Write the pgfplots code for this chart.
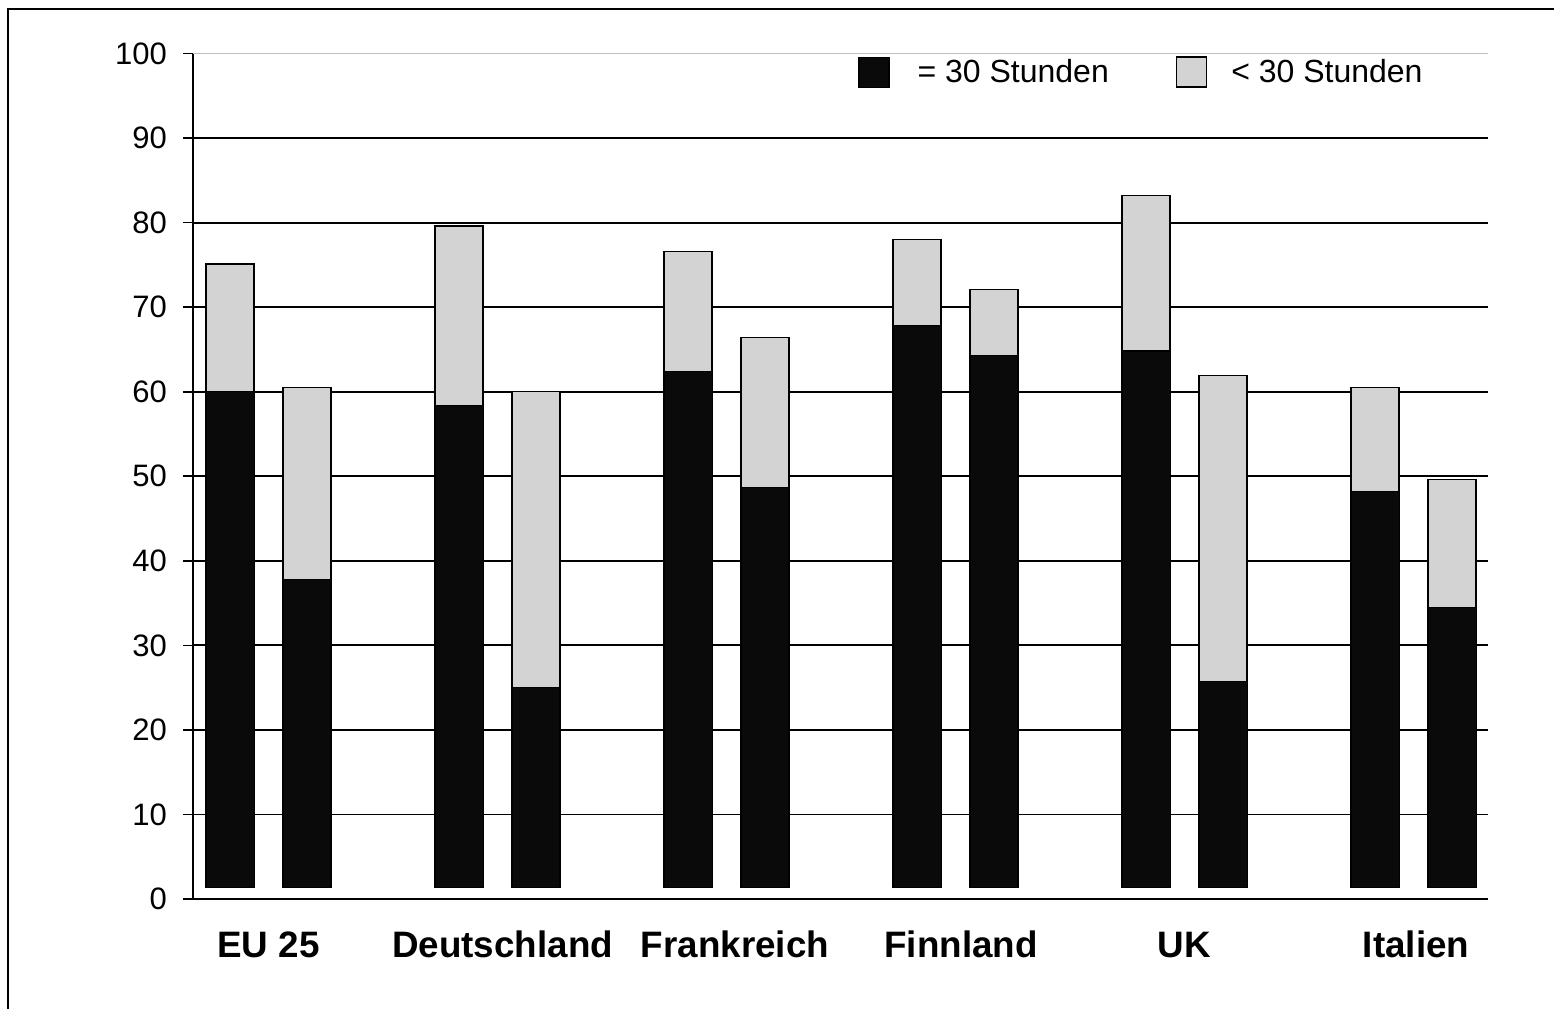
\documentclass[border=0pt]{standalone}
\usepackage{fontspec}
\setmainfont{Liberation Sans}
\usepackage{pgfplots}
\pgfplotsset{compat=1.18}
\definecolor{barblack}{HTML}{0A0A0A}
\definecolor{bargray}{HTML}{D3D3D3}
\begin{document}
\begin{tikzpicture}
\useasboundingbox (0,0) rectangle (777pt,504.5pt);
% outer frame (only top and left visible)
\draw[line width=1pt] (4.2pt,0) -- (4.2pt,500.2pt) -- (777pt,500.2pt);
\begin{axis}[
	at={(96.5pt,55pt)}, anchor=south west,
	width=647.5pt, height=422.75pt, scale only axis,
	ybar stacked, bar width=0.21,
	xmin=-0.33, xmax=5.325, ymin=0, ymax=100,
	axis x line*=bottom, axis y line*=left,
	x axis line style={line width=1.4pt},
	y axis line style={line width=0.8pt},
	ytick={0,10,...,90},
	extra y ticks={100}, extra y tick style={grid=none},
	ymajorgrids, major grid style={black, line width=0.9pt},
	tick align=outside, major tick length=5pt,
	ytick style={black, line width=0.8pt},
	xtick style={draw=none},
	xtick={0,1.022,2.037,3.024,3.998,5.011},
	xticklabels={EU 25,Deutschland,Frankreich,Finnland,UK,Italien},
	xticklabel style={font=\fontsize{18.4}{22}\selectfont\bfseries, inner sep=0pt, anchor=base, yshift=-24pt},
	yticklabel style={font=\fontsize{15.5}{19}\selectfont, xshift=-4.5pt},
	/pgf/number format/assume math mode=true,
	legend columns=2,
	legend style={at={(rel axis cs:0.5135,0.978)}, anchor=west, draw=none, fill=none,
		inner sep=0pt, font=\fontsize{16}{19}\selectfont,
		/tikz/column 1/.style={column sep=12pt},
		/tikz/column 2/.style={column sep=31.5pt},
		/tikz/column 3/.style={column sep=10pt}},
	legend image code/.code={\draw[#1] (0pt,-7.5pt) rectangle (15pt,7.5pt);},
]
% invisible base, bars start slightly above zero
\addplot[draw=none, fill=none, forget plot] coordinates {
	(-0.168,1.35) (0.168,1.35) (0.832,1.35) (1.168,1.35) (1.832,1.35) (2.168,1.35)
	(2.832,1.35) (3.168,1.35) (3.832,1.35) (4.168,1.35) (4.832,1.35) (5.168,1.35)};
\addplot[fill=barblack, draw=black, line width=0.6pt] coordinates {
	(-0.168,58.65) (0.168,36.45) (0.832,57.05) (1.168,23.65) (1.832,61.05) (2.168,47.35)
	(2.832,66.45) (3.168,62.95) (3.832,63.45) (4.168,24.35) (4.832,46.85) (5.168,33.15)};
\addlegendentry{= 30 Stunden}
\addplot[fill=bargray, draw=black, line width=0.7pt] coordinates {
	(-0.168,15.1) (0.168,22.7) (0.832,21.2) (1.168,35.0) (1.832,14.2) (2.168,17.7)
	(2.832,10.2) (3.168,7.8) (3.832,18.4) (4.168,36.2) (4.832,12.3) (5.168,15.1)};
\addlegendentry{< 30 Stunden}
\draw[lightgray, line width=0.5pt] (rel axis cs:0,1) -- (rel axis cs:1,1);
\end{axis}
\end{tikzpicture}
\end{document}
